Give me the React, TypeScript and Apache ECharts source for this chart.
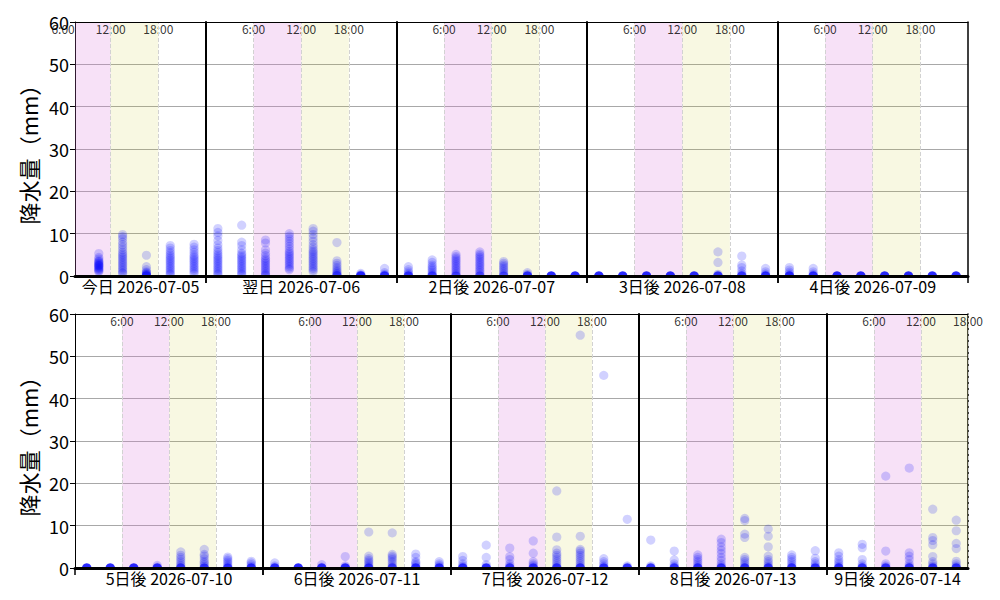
import React, { useEffect, useRef } from 'react';
import * as echarts from 'echarts';

// ---------- data ----------
const dayLabels = [
  '今日 2026-07-05',
  '翌日 2026-07-06',
  '2日後 2026-07-07',
  '3日後 2026-07-08',
  '4日後 2026-07-09',
  '5日後 2026-07-10',
  '6日後 2026-07-11',
  '7日後 2026-07-12',
  '8日後 2026-07-13',
  '9日後 2026-07-14',
];
const dayStart = [7.5, 0, 0, 0, 0, 0, 0, 0, 0, 0];
const dayEnd = [24, 24, 24, 24, 24, 24, 24, 24, 24, 18];
const dayRow = [0, 0, 0, 0, 0, 1, 1, 1, 1, 1];
const slotHours = [1.5, 4.5, 7.5, 10.5, 13.5, 16.5, 19.5, 22.5];
const markHours = [6, 12, 18];
const markLabels = ['6:00', '12:00', '18:00'];
const morningBand = [6, 12];
const afternoonBand = [12, 18];
const yAxisName = '降水量（mm）';

// ensemble precipitation (mm) per 3-hour slot, one array per slot
const day0 = [
  [],
  [],
  [],
  [5.3, 4.4, 4.0, 3.6, 3.4, 3.2, 3.0, 2.8, 2.6, 2.5, 2.4, 2.2, 2.0, 1.8, 1.6, 1.4, 1.2, 1.0],
  [9.8, 9.3, 8.8, 8.0, 7.4, 6.8, 6.2, 5.6, 5.2, 4.8, 4.4, 4.0, 3.6, 3.2, 2.8, 2.4, 2.0, 1.6, 1.2, 0.8, 0.6],
  [4.9, 2.2, 1.5, 1.0, 0.8, 0.6, 0.4, 0.3, 0.2, 0.1, 0, 0, 0],
  [7.2, 6.6, 6.0, 5.5, 5.0, 4.6, 4.2, 3.8, 3.4, 3.0, 2.6, 2.2, 1.8, 1.4, 1.0, 0.6, 0.3],
  [7.5, 6.8, 6.2, 5.6, 5.0, 4.6, 4.2, 3.8, 3.4, 3.0, 2.6, 2.2, 1.8, 1.4, 1.0, 0.6],
];
const day1 = [
  [11.2, 10.3, 9.5, 8.4, 7.4, 6.6, 6.0, 5.5, 5.0, 4.6, 4.2, 3.8, 3.4, 3.0, 2.6, 2.2, 1.8, 1.4, 1.0, 0.6, 0.3],
  [12.0, 8.0, 7.2, 6.2, 5.4, 5.0, 4.6, 4.2, 3.8, 3.4, 3.0, 2.6, 2.2, 1.8, 1.4, 1.0, 0.6, 0.3],
  [8.5, 7.8, 6.2, 5.4, 4.8, 4.2, 3.8, 3.4, 3.0, 2.6, 2.2, 1.8, 1.4, 1.0, 0.6, 0.3, 0.1],
  [10.0, 9.4, 8.8, 8.2, 7.6, 7.0, 6.4, 5.8, 5.4, 5.0, 4.6, 4.2, 3.8, 3.4, 3.0, 2.6, 2.2, 1.8, 1.5],
  [11.2, 10.6, 9.8, 9.0, 8.2, 7.4, 6.8, 6.2, 5.8, 5.4, 5.0, 4.6, 4.2, 3.8, 3.4, 3.0, 2.6, 2.2, 1.8, 1.4, 1.0],
  [7.9, 3.6, 3.0, 2.5, 2.0, 1.6, 1.2, 0.9, 0.6, 0.4, 0.2, 0.1, 0, 0],
  [0.6, 0.3, 0.2, 0.1, 0, 0, 0, 0, 0, 0],
  [1.8, 0.8, 0.4, 0.2, 0.1, 0, 0, 0, 0, 0],
];
const day2 = [
  [2.2, 1.5, 1.0, 0.6, 0.3, 0.1, 0, 0, 0, 0],
  [3.8, 3.2, 2.6, 2.2, 1.8, 1.4, 1.0, 0.6, 0.3, 0.1, 0, 0, 0],
  [5.1, 4.6, 4.2, 3.8, 3.4, 3.0, 2.6, 2.2, 1.8, 1.4, 1.0, 0.6, 0.3, 0, 0, 0],
  [5.7, 5.2, 4.8, 4.4, 4.0, 3.6, 3.2, 2.8, 2.4, 2.0, 1.6, 1.2, 0.8, 0.4, 0, 0, 0],
  [3.4, 3.0, 2.6, 2.2, 1.8, 1.4, 1.0, 0.6, 0.3, 0, 0, 0],
  [0.8, 0.4, 0.2, 0, 0, 0, 0, 0, 0],
  [0.1, 0, 0, 0, 0, 0, 0, 0, 0],
  [0.1, 0, 0, 0, 0, 0, 0, 0, 0],
];
const day3 = [
  [0.1, 0, 0, 0, 0, 0, 0, 0, 0],
  [0.1, 0, 0, 0, 0, 0, 0, 0, 0],
  [0.1, 0, 0, 0, 0, 0, 0, 0, 0],
  [0.1, 0, 0, 0, 0, 0, 0, 0, 0],
  [0.1, 0, 0, 0, 0, 0, 0, 0, 0],
  [5.7, 3.2, 0.4, 0.2, 0, 0, 0, 0, 0, 0],
  [4.7, 2.6, 2.0, 1.2, 0.6, 0.3, 0, 0, 0, 0, 0],
  [1.8, 1.0, 0.5, 0.2, 0, 0, 0, 0, 0, 0],
];
const day4 = [
  [2.0, 1.4, 0.9, 0.5, 0.2, 0, 0, 0, 0, 0, 0],
  [1.8, 1.0, 0.5, 0.2, 0, 0, 0, 0, 0, 0],
  [0.1, 0, 0, 0, 0, 0, 0, 0, 0],
  [0.1, 0, 0, 0, 0, 0, 0, 0, 0],
  [0.1, 0, 0, 0, 0, 0, 0, 0, 0],
  [0.1, 0, 0, 0, 0, 0, 0, 0, 0],
  [0.1, 0, 0, 0, 0, 0, 0, 0, 0],
  [0.1, 0, 0, 0, 0, 0, 0, 0, 0],
];
const day5 = [
  [0.1, 0, 0, 0, 0, 0, 0, 0, 0],
  [0.1, 0, 0, 0, 0, 0, 0, 0, 0],
  [0.1, 0, 0, 0, 0, 0, 0, 0, 0],
  [0.6, 0.2, 0, 0, 0, 0, 0, 0, 0],
  [3.8, 3.0, 2.5, 2.0, 1.5, 1.0, 0.6, 0.3, 0, 0, 0, 0, 0],
  [4.4, 3.2, 2.8, 2.2, 1.6, 1.2, 0.8, 0.4, 0, 0, 0, 0, 0],
  [2.6, 2.2, 1.8, 1.4, 1.0, 0.6, 0.3, 0, 0, 0, 0, 0],
  [1.6, 1.2, 0.8, 0.4, 0.1, 0, 0, 0, 0, 0],
];
const day6 = [
  [1.2, 0.5, 0.2, 0, 0, 0, 0, 0, 0],
  [0.1, 0, 0, 0, 0, 0, 0, 0, 0],
  [0.8, 0.2, 0, 0, 0, 0, 0, 0, 0],
  [2.7, 0.5, 0.2, 0, 0, 0, 0, 0, 0, 0],
  [8.5, 2.8, 2.2, 1.8, 1.4, 1.0, 0.6, 0.3, 0, 0, 0, 0, 0],
  [8.3, 3.2, 2.8, 2.4, 2.0, 1.5, 1.0, 0.5, 0.2, 0, 0, 0, 0],
  [3.3, 2.5, 1.5, 1.2, 0.8, 0.4, 0.1, 0, 0, 0, 0, 0],
  [1.5, 1.0, 0.6, 0.3, 0, 0, 0, 0, 0, 0],
];
const day7 = [
  [2.7, 1.8, 1.0, 0.5, 0.2, 0, 0, 0, 0, 0, 0],
  [5.4, 2.5, 0.8, 0.3, 0, 0, 0, 0, 0, 0, 0],
  [4.7, 2.7, 2.0, 1.0, 0.5, 0.2, 0, 0, 0, 0, 0],
  [6.4, 3.5, 1.5, 1.0, 0.6, 0.3, 0, 0, 0, 0, 0],
  [18.2, 7.3, 4.3, 3.5, 3.0, 2.5, 2.0, 1.5, 1.0, 0.5, 0.2, 0, 0, 0, 0, 0],
  [55.0, 7.5, 4.4, 4.0, 3.5, 3.0, 2.5, 2.0, 1.5, 1.0, 0.5, 0.2, 0, 0, 0, 0, 0],
  [45.5, 2.2, 1.5, 1.0, 0.5, 0.2, 0, 0, 0, 0, 0],
  [11.5, 0.5, 0.2, 0, 0, 0, 0, 0, 0],
];
const day8 = [
  [6.6, 0.5, 0.2, 0, 0, 0, 0, 0, 0],
  [4.0, 1.9, 1.0, 0.5, 0.2, 0, 0, 0, 0, 0],
  [3.1, 2.5, 2.0, 1.5, 1.0, 0.5, 0.2, 0, 0, 0, 0, 0],
  [6.8, 6.0, 5.0, 4.2, 3.4, 2.5, 1.8, 1.0, 0.5, 0.2, 0, 0, 0, 0, 0],
  [11.7, 11.2, 8.0, 7.2, 2.5, 2.0, 1.5, 1.0, 0.5, 0.2, 0, 0, 0, 0, 0],
  [9.2, 7.5, 5.0, 2.8, 2.0, 1.5, 1.0, 0.5, 0.2, 0, 0, 0, 0, 0],
  [3.1, 2.5, 2.0, 1.5, 1.0, 0.5, 0.2, 0, 0, 0, 0, 0],
  [4.1, 2.3, 1.5, 1.0, 0.5, 0.2, 0, 0, 0, 0, 0],
];
const day9 = [
  [3.6, 2.8, 2.0, 1.5, 1.0, 0.5, 0.2, 0, 0, 0, 0, 0],
  [5.6, 4.8, 2.0, 1.0, 0.5, 0.2, 0, 0, 0, 0, 0],
  [21.7, 4.0, 1.0, 0.5, 0.2, 0, 0, 0, 0, 0],
  [23.6, 3.6, 2.8, 2.0, 1.0, 0.5, 0.2, 0, 0, 0, 0, 0],
  [13.9, 7.2, 6.5, 5.5, 2.7, 1.5, 1.0, 0.5, 0.2, 0, 0, 0, 0, 0],
  [11.3, 8.8, 5.8, 4.6, 1.6, 1.0, 0.5, 0.2, 0, 0, 0, 0, 0],
  [],
  [],
];
const days = [day0, day1, day2, day3, day4, day5, day6, day7, day8, day9];

// ---------- layout / style ----------
const FONT = '"Noto Sans CJK JP", "Noto Sans", sans-serif';
const PLOT_LEFT = 75;
const PLOT_RIGHT = 968;
const ROW_TOP = [22, 314];
const ROW_HEIGHT = 254;
const POINT_COLOR = 'rgba(0,0,255,0.18)';
const MORNING_COLOR = 'rgba(220,120,220,0.22)';
const AFTERNOON_COLOR = 'rgba(195,195,0,0.115)';

function buildOption() {
  const grids: any[] = [];
  const xAxes: any[] = [];
  const yAxes: any[] = [];
  const series: any[] = [];

  const rowHours = [0, 0];
  days.forEach((_, d) => {
    rowHours[dayRow[d]] += dayEnd[d] - dayStart[d];
  });
  const rowCursor = [0, 0];

  days.forEach((cols, d) => {
    const row = dayRow[d];
    const rowIdx = days.map((_, i) => i).filter((i) => dayRow[i] === row);
    const isFirst = rowIdx[0] === d;
    const isLast = rowIdx[rowIdx.length - 1] === d;
    const pxPerHour = (PLOT_RIGHT - PLOT_LEFT) / rowHours[row];
    const left = PLOT_LEFT + rowCursor[row] * pxPerHour;
    const span = dayEnd[d] - dayStart[d];
    const width = span * pxPerHour;
    rowCursor[row] += span;
    const min = dayStart[d];
    const max = dayEnd[d];

    grids.push({
      left,
      top: ROW_TOP[row],
      width,
      height: ROW_HEIGHT,
      containLabel: false,
      outerBoundsMode: 'none',
    });

    const ticks: number[] = [];
    if (min === 0) ticks.push(0);
    if (max === 24) ticks.push(24);

    const xBottom = xAxes.length;
    xAxes.push({
      gridIndex: d,
      type: 'value',
      position: 'bottom',
      min,
      max,
      z: 5,
      axisLine: { show: true, onZero: false, lineStyle: { color: '#000', width: 3 } },
      axisTick: {
        show: true,
        customValues: ticks,
        length: 7,
        lineStyle: { color: '#000', width: 1.5 },
      },
      axisLabel: { show: false },
      splitLine: { show: false },
      name: dayLabels[d],
      nameLocation: 'middle',
      nameGap: 2,
      nameTextStyle: { fontSize: 16, color: '#000', fontFamily: FONT, verticalAlign: 'top' },
    });
    xAxes.push({
      gridIndex: d,
      type: 'value',
      position: 'top',
      min,
      max,
      z: 5,
      axisLine: { show: true, onZero: false, lineStyle: { color: '#000', width: 1 } },
      axisTick: { show: false },
      axisLabel: { show: false },
      splitLine: { show: false },
    });

    const yLeft = yAxes.length;
    yAxes.push({
      gridIndex: d,
      type: 'value',
      position: 'left',
      min: 0,
      max: 60,
      interval: 10,
      axisLine: { show: true, onZero: false, lineStyle: { color: '#000', width: isFirst ? 1 : 2 } },
      axisTick: { show: isFirst, length: 5, lineStyle: { color: '#000', width: 1 } },
      axisLabel: { show: isFirst, fontSize: 18, color: '#000', margin: 6, fontFamily: FONT },
      splitLine: { show: true, lineStyle: { color: '#a8a8a8', width: 1 } },
      name: isFirst ? yAxisName : '',
      nameLocation: 'middle',
      nameGap: 36,
      nameTextStyle: { fontSize: 22, color: '#000', fontFamily: FONT },
    });
    if (isLast) {
      yAxes.push({
        gridIndex: d,
        type: 'value',
        position: 'right',
        min: 0,
        max: 60,
        interval: 10,
        axisLine: { show: true, onZero: false, lineStyle: { color: '#000', width: 1.5 } },
        axisTick: { show: false },
        axisLabel: { show: false },
        splitLine: { show: false },
      });
    }

    // shaded bands and dashed guides
    const bands: any[] = [];
    const addBand = (b: number[], color: string) => {
      const a = Math.max(b[0], min);
      const e = Math.min(b[1], max);
      if (e > a) bands.push([{ xAxis: a, itemStyle: { color } }, { xAxis: e }]);
    };
    addBand(morningBand, MORNING_COLOR);
    addBand(afternoonBand, AFTERNOON_COLOR);
    const guides = markHours.filter((h) => h >= min && h <= max).map((h) => ({ xAxis: h }));

    series.push({
      type: 'line',
      xAxisIndex: xBottom,
      yAxisIndex: yLeft,
      data: [],
      silent: true,
      z: 1,
      markArea: { silent: true, data: bands },
      markLine: {
        silent: true,
        symbol: ['none', 'none'],
        label: { show: false },
        lineStyle: { type: [4, 2], color: '#d2d2d2', width: 1 },
        data: guides,
      },
    });

    // ensemble points
    const pts: number[][] = [];
    cols.forEach((vals: number[], s: number) => {
      vals.forEach((v) => pts.push([slotHours[s], v]));
    });
    series.push({
      type: 'custom',
      xAxisIndex: xBottom,
      yAxisIndex: yLeft,
      clip: true,
      z: 2,
      silent: true,
      encode: { x: 0, y: 1 },
      data: pts,
      renderItem: (params: any, api: any) => {
        const p = api.coord([api.value(0), api.value(1)]);
        return {
          type: 'circle',
          shape: { cx: p[0], cy: p[1], r: 4.6 },
          style: { fill: POINT_COLOR },
        };
      },
    });

    // time labels at top
    series.push({
      type: 'scatter',
      xAxisIndex: xBottom,
      yAxisIndex: yLeft,
      clip: false,
      silent: true,
      z: 4,
      symbolSize: 1,
      itemStyle: { color: 'rgba(0,0,0,0)' },
      data: markHours.map((h) => [h, 60]),
      label: {
        show: true,
        position: 'bottom',
        distance: 0,
        fontSize: 12,
        color: '#000',
        fontFamily: FONT,
        formatter: (p: any) => markLabels[p.dataIndex],
      },
    });
  });

  return {
    animation: false,
    backgroundColor: '#fff',
    textStyle: { fontFamily: FONT },
    grid: grids,
    xAxis: xAxes,
    yAxis: yAxes,
    series,
  };
}

export default function App() {
  const ref = useRef<HTMLDivElement>(null);
  useEffect(() => {
    document.body.style.margin = '0';
    if (!ref.current) return;
    const chart = echarts.init(ref.current, undefined, { renderer: 'svg' });
    chart.setOption(buildOption() as any);
    return () => {
      chart.dispose();
    };
  }, []);
  return <div ref={ref} style={{ width: 1000, height: 600 }} />;
}
